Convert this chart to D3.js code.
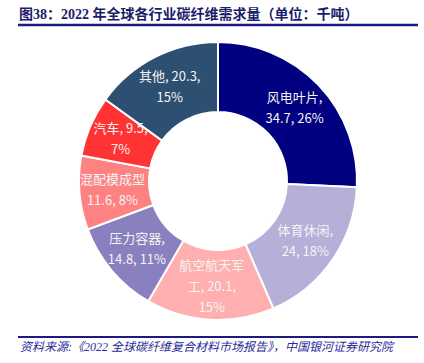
<!DOCTYPE html>
<html>
<head>
<meta charset="utf-8">
<script src="https://cdn.jsdelivr.net/npm/d3@7"></script>
<style>
  body { margin: 0; background: #fff; }
  svg { display: block; }
</style>
</head>
<body>
<div id="chart"></div>
<script>
// datos del gráfico
const categories = ["风电叶片", "体育休闲", "航空航天军工", "压力容器", "混配模成型", "汽车", "其他"];
const values = [34.7, 24, 20.1, 14.8, 11.6, 9.5, 20.3];
const percents = ["26%", "18%", "15%", "11%", "8%", "7%", "15%"];
// texto de las etiquetas, partido en líneas como en el original
const labelLines = [
  ["风电叶片,", "34.7, 26%"],
  ["体育休闲,", "24, 18%"],
  ["航空航天军", "工, 20.1,", "15%"],
  ["压力容器,", "14.8, 11%"],
  ["混配模成型", "11.6, 8%"],
  ["汽车, 9.5,", "7%"],
  ["其他, 20.3,", "15%"]
];
const colors = ["#000080", "#b4b0d8", "#ffafaf", "#8880bf", "#ff8282", "#ff3333", "#2d4f72"];

const width = 424, height = 363;
const cx = 218, cy = 181;
const outerR = 139, innerR = 69;

const svg = d3.select("#chart")
  .append("svg")
  .attr("width", width)
  .attr("height", height);

// título
svg.append("text")
  .attr("x", 19)
  .attr("y", 19)
  .attr("fill", "#1c1c6b")
  .style("font-family", "'Liberation Serif', 'Noto Sans CJK SC', serif")
  .style("font-weight", "bold")
  .style("font-size", "14px")
  .text("图38：2022 年全球各行业碳纤维需求量（单位：千吨）");

svg.append("line")
  .attr("x1", 18).attr("x2", 418)
  .attr("y1", 25).attr("y2", 25)
  .attr("stroke", "#1a1a80")
  .attr("stroke-width", 2.5);

// donut
const pie = d3.pie().sort(null).value((d) => d)(values);
const arc = d3.arc().innerRadius(innerR).outerRadius(outerR);
const labelArc = d3.arc().innerRadius(106).outerRadius(106);

const g = svg.append("g").attr("transform", `translate(${cx}, ${cy})`);

g.selectAll("path")
  .data(pie)
  .enter()
  .append("path")
  .attr("d", arc)
  .attr("fill", (d, i) => colors[i])
  .attr("stroke", "#fff")
  .attr("stroke-width", 2);

const lineH = 21;
const labels = g.selectAll("text.lbl")
  .data(pie)
  .enter()
  .append("text")
  .attr("class", "lbl")
  .attr("text-anchor", "middle")
  .attr("fill", "#f4f4f4")
  .style("font-family", "'Noto Sans CJK SC', 'Noto Sans', sans-serif")
  .style("font-size", "13px")
  .attr("transform", (d) => {
    const [x, y] = labelArc.centroid(d);
    return `translate(${x}, ${y})`;
  });

labels.each(function (d, i) {
  const lines = labelLines[i];
  const y0 = -((lines.length - 1) * lineH) / 2;
  d3.select(this)
    .selectAll("tspan")
    .data(lines)
    .enter()
    .append("tspan")
    .attr("x", 0)
    .attr("y", (t, j) => y0 + j * lineH)
    .attr("dy", "0.35em")
    .text((t) => t);
});

// fuente
svg.append("line")
  .attr("x1", 18).attr("x2", 418)
  .attr("y1", 337).attr("y2", 337)
  .attr("stroke", "#1a1a80")
  .attr("stroke-width", 2);

svg.append("text")
  .attr("x", 20)
  .attr("y", 351)
  .attr("fill", "#2b2b9a")
  .style("font-family", "'Liberation Serif', 'Noto Sans CJK SC', serif")
  .style("font-style", "italic")
  .style("font-size", "12px")
  .text("资料来源:《2022 全球碳纤维复合材料市场报告》，中国银河证券研究院");
</script>
</body>
</html>
